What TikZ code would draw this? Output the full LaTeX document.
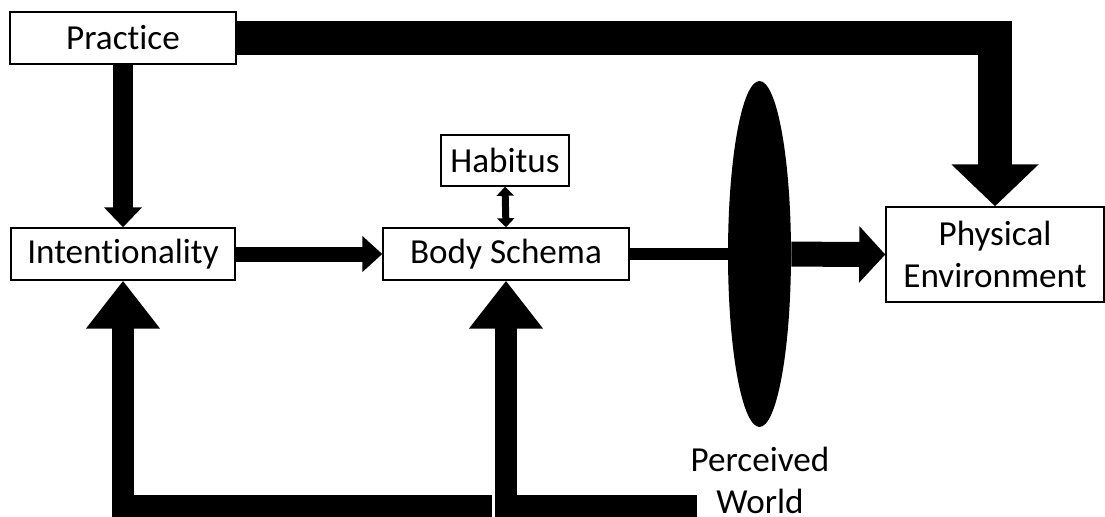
\documentclass[tikz,border=0pt]{standalone}
\usepackage{fontspec}
\setmainfont{Carlito}[Ligatures={NoCommon}]
\usetikzlibrary{arrows.meta,shapes.geometric}
\begin{document}
\begin{tikzpicture}[x=0.02cm,y=-0.02cm,
	box/.style={draw,line width=0.85pt,inner sep=0pt,minimum height=1.04cm,align=center,font=\fontsize{20}{24}\selectfont},
	label/.style={inner sep=0pt,align=center,font=\fontsize{20}{24}\selectfont},
	fat/.style={line width=#1,line join=miter}]
	\useasboundingbox (0,0) rectangle (1105,517);
	\node[box,minimum width=4.52cm] (practice) at (123,38) {Practice};
	\node[box,minimum width=4.48cm] (intent) at (123,254) {Intentionality};
	\node[box,minimum width=4.92cm] (body) at (506,254) {Body Schema};
	\node[box,minimum width=2.56cm,minimum height=1.02cm] (habitus) at (505,160.5) {Habitus};
	\node[box,minimum width=4.36cm,minimum height=1.9cm] (physenv) at (995,254.5) {Physical\\Environment};
	\node[ellipse,fill=black,inner sep=0pt,minimum width=1.26cm,minimum height=6.92cm] (lens) at (759.5,254) {};
	\node[label] (perceived) at (760,480) {Perceived\\World};
	\coordinate (pw1) at (492,506);
	\coordinate (pw2) at (697,506);
	\draw[fat=0.68cm,-{Triangle[width=1.7cm,length=0.84cm]}] (practice.east) -| (physenv.north);
	\draw[fat=0.4cm,-{Triangle[width=0.74cm,length=0.4cm]}] (practice.south) -- (intent.north);
	\draw[fat=0.3cm,-{Triangle[width=0.7cm,length=0.4cm]}] (intent.east) -- (body.west);
	\draw[fat=0.14cm,{Triangle[width=0.34cm,length=0.18cm]}-{Triangle[width=0.34cm,length=0.18cm]}] (habitus.south) -- (body.north);
	\draw[fat=0.24cm] (body.east) -- (lens);
	\draw[fat=0.5cm,-{Triangle[width=1.1cm,length=0.52cm]}] (lens) -- (physenv.west);
	\draw[fat=0.44cm,-{Triangle[width=1.42cm,length=0.96cm]}] (pw1) -| (intent.south);
	\draw[fat=0.44cm,-{Triangle[width=1.42cm,length=0.96cm]}] (pw2) -| (body.south);
\end{tikzpicture}
\end{document}
